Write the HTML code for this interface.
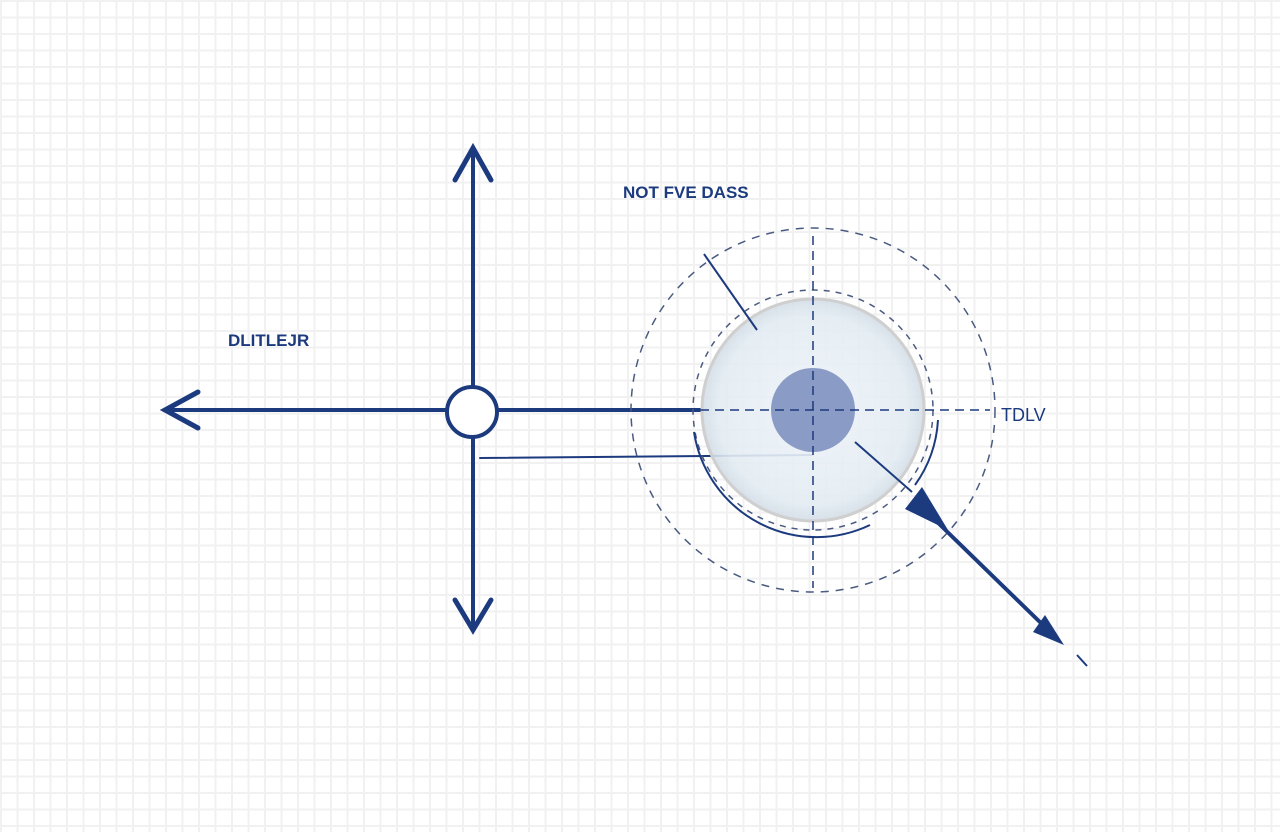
<!DOCTYPE html>
<html><head><style>
html,body{margin:0;padding:0;width:1280px;height:832px;overflow:hidden;background:#fff;
background-image:linear-gradient(#f1f1f1 2px,transparent 2px),linear-gradient(90deg,#f1f1f1 2px,transparent 2px);
background-size:16.5px 16.5px;}
svg{position:absolute;left:0;top:0}
</style></head><body>
<svg width="1280" height="832" viewBox="0 0 1280 832">
<defs>
<radialGradient id="g" cx="0.5" cy="0.5" r="0.5">
<stop offset="0" stop-color="#eef3f8" stop-opacity="0.9"/>
<stop offset="0.85" stop-color="#e3ecf3" stop-opacity="0.9"/>
<stop offset="1" stop-color="#d3dde6" stop-opacity="0.9"/>
</radialGradient>
</defs>
<g stroke="#1c3a7e" fill="none" stroke-linecap="round">
<line x1="473" y1="148" x2="473" y2="630" stroke-width="4"/>
<polyline points="455,180 473,148 491,180" stroke-width="5"/>
<polyline points="455,600 473,630 491,600" stroke-width="5"/>
<line x1="165" y1="410" x2="700" y2="410" stroke-width="4"/>
<polyline points="198,392 165,410 198,428" stroke-width="5"/>
<circle cx="472" cy="412" r="25" stroke-width="4" fill="#fff"/>
<line x1="480" y1="458" x2="812" y2="455" stroke-width="2"/>
</g>
<circle cx="813" cy="410" r="182" fill="none" stroke="#4a5a80" stroke-width="1.5" stroke-dasharray="8,7"/>
<circle cx="813" cy="410" r="120" fill="none" stroke="#4a5a80" stroke-width="1.5" stroke-dasharray="6,6"/>
<circle cx="813" cy="410" r="111" fill="url(#g)" stroke="#cfcfcf" stroke-width="3"/>
<circle cx="813" cy="410" r="42" fill="#8a9bc6"/>
<g stroke="#1c3a7e" fill="none">
<line x1="813" y1="236" x2="813" y2="588" stroke-width="1.5" stroke-dasharray="9,6"/>
<line x1="700" y1="410" x2="990" y2="410" stroke-width="1.5" stroke-dasharray="9,6"/>
<line x1="704" y1="254" x2="757" y2="330" stroke-width="2"/>
<path d="M694 432 A124 124 0 0 0 870 525" stroke-width="2"/>
<path d="M938 420 A124 124 0 0 1 915 485" stroke-width="2"/>
<line x1="855" y1="442" x2="912" y2="492" stroke-width="2"/>
<line x1="930" y1="515" x2="1045" y2="627" stroke-width="4"/>
<line x1="1077" y1="655" x2="1087" y2="666" stroke-width="2"/>
</g>
<polygon points="922,487 905,509 948,530" fill="#1c3a7e"/>
<polygon points="1045,615 1033,632 1064,645" fill="#1c3a7e"/>
<g font-family="Liberation Sans, sans-serif" fill="#1c3a7e" font-weight="bold" font-size="17">
<text x="623" y="198">NOT FVE DASS</text>
<text x="228" y="346">DLITLEJR</text>
<text x="1001" y="421" font-weight="normal" font-size="18">TDLV</text>
</g>
</svg>
</body></html>
